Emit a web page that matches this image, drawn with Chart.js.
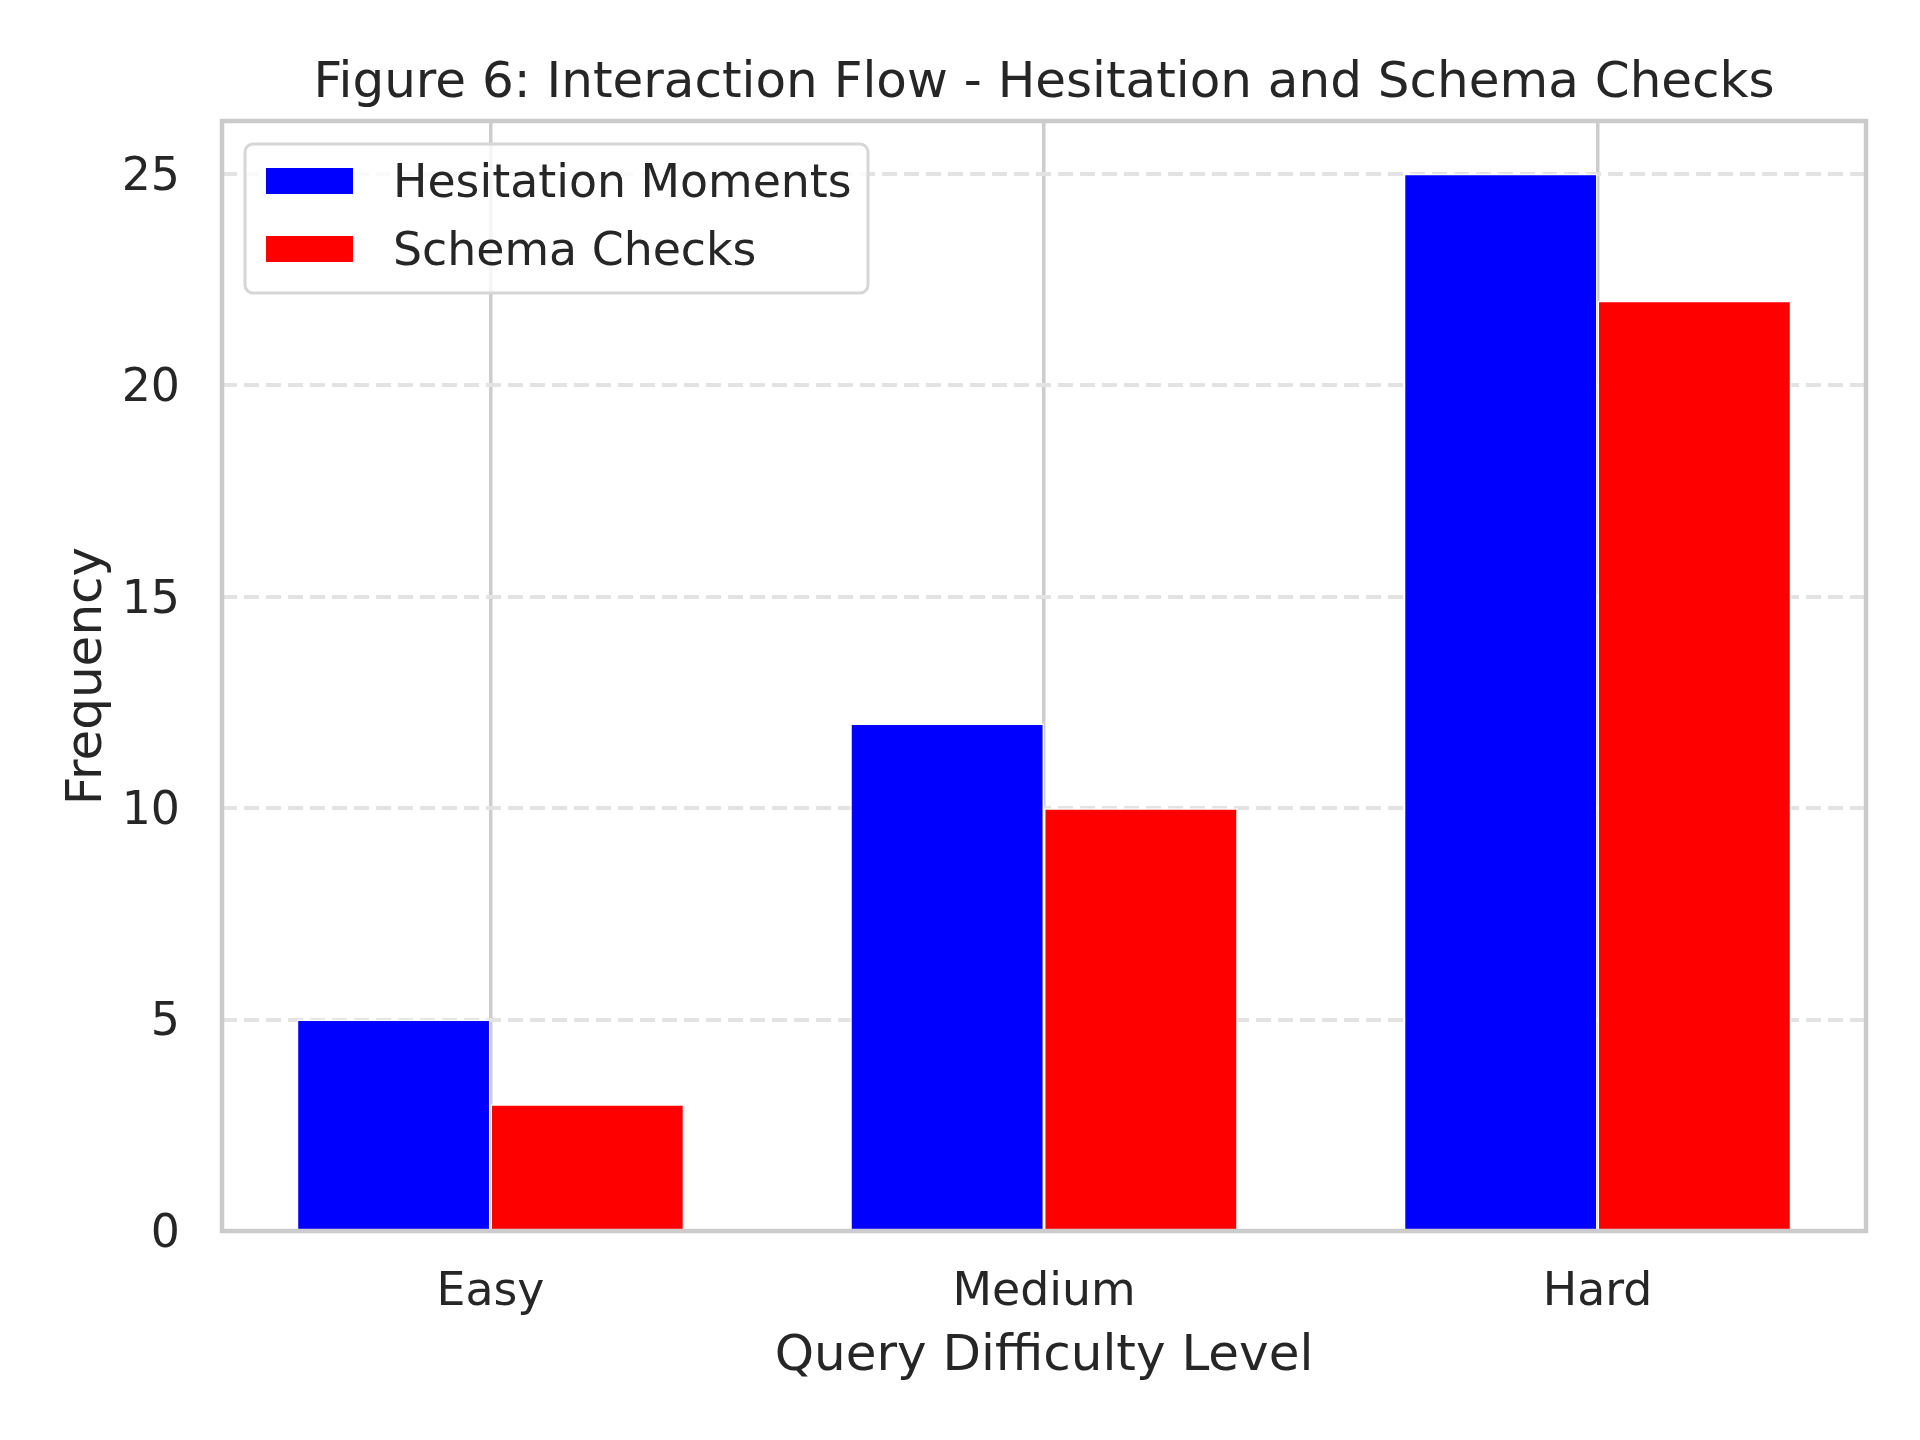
<!DOCTYPE html>
<html>
<head>
<meta charset="utf-8">
<script src="https://cdn.jsdelivr.net/npm/chart.js@4.4.1/dist/chart.umd.min.js"></script>
<style>
  html, body { margin: 0; padding: 0; background: #fff; }
  canvas { display: block; }
</style>
</head>
<body>
<canvas id="barChart" width="1920" height="1440"></canvas>
<script>
const categories = ['Easy', 'Medium', 'Hard'];
const hesitationMoments = [5, 12, 25];
const schemaChecks = [3, 10, 22];
const yTicks = [0, 5, 10, 15, 20, 25];

const textColor = '#262626';
const fontFamily = "'DejaVu Sans', sans-serif";

// frame round the plot area, drawn on top like the spines
const frame = {
  id: 'frame',
  afterDatasetsDraw(chart) {
    const { ctx, chartArea: a } = chart;
    ctx.save();
    ctx.strokeStyle = '#cccccc';
    ctx.lineWidth = 4.5;
    ctx.strokeRect(a.left, a.top, a.right - a.left, a.bottom - a.top);
    ctx.restore();
  }
};

// legend box inside the upper left corner
const innerLegend = {
  id: 'innerLegend',
  afterDatasetsDraw(chart) {
    const ctx = chart.ctx;
    const a = chart.chartArea;
    const x = a.left + 23, y = a.top + 23, w = 623, h = 149;
    ctx.save();
    ctx.beginPath();
    ctx.roundRect(x, y, w, h, 8);
    ctx.fillStyle = 'rgba(255,255,255,0.8)';
    ctx.fill();
    ctx.strokeStyle = '#d6d6d6';
    ctx.lineWidth = 3;
    ctx.stroke();
    ctx.font = '45.8px ' + fontFamily;
    ctx.textBaseline = 'middle';
    chart.data.datasets.forEach((ds, i) => {
      const cy = y + 37 + i * 68;
      ctx.fillStyle = ds.backgroundColor;
      ctx.fillRect(x + 21, cy - 13, 87, 26);
      ctx.fillStyle = textColor;
      ctx.fillText(ds.label, x + 148, cy + 4);
    });
    ctx.restore();
  }
};

const ctxBar = document.getElementById('barChart').getContext('2d');
new Chart(ctxBar, {
  type: 'bar',
  data: {
    datasets: [{
      label: 'Hesitation Moments',
      data: categories.map((c, i) => ({ x: i, y: hesitationMoments[i] })),
      backgroundColor: '#0000ff',
      borderColor: '#ffffff',
      borderWidth: 1.5
    }, {
      label: 'Schema Checks',
      data: categories.map((c, i) => ({ x: i, y: schemaChecks[i] })),
      backgroundColor: '#ff0000',
      borderColor: '#ffffff',
      borderWidth: 1.5
    }]
  },
  options: {
    responsive: false,
    animation: false,
    categoryPercentage: 0.7,
    barPercentage: 1.0,
    layout: { padding: { left: 0, right: 54, top: 0, bottom: 0 } },
    plugins: {
      legend: { display: false },
      tooltip: { enabled: false },
      title: {
        display: true,
        fullSize: false,
        text: 'Figure 6: Interaction Flow - Hesitation and Schema Checks',
        color: textColor,
        font: { family: fontFamily, size: 50, weight: 'normal' },
        padding: { top: 54, bottom: 7 }
      }
    },
    scales: {
      x: {
        type: 'linear',
        min: -0.485,
        max: 2.485,
        offset: false,
        afterBuildTicks: s => { s.ticks = categories.map((c, i) => ({ value: i })); },
        afterFit: s => { s.height = 1440 - 1231; },
        grid: { offset: false, color: '#cccccc', lineWidth: 3.5, drawTicks: false },
        border: { display: false },
        ticks: {
          callback: (v, i) => categories[i],
          color: textColor,
          font: { family: fontFamily, size: 45.8 },
          padding: 35,
          autoSkip: false,
          maxRotation: 0
        },
        title: {
          display: true,
          text: 'Query Difficulty Level',
          color: textColor,
          font: { family: fontFamily, size: 50 },
          padding: { top: 0, bottom: 53 }
        }
      },
      y: {
        min: 0,
        max: 26.25,
        afterBuildTicks: s => { s.ticks = yTicks.map(v => ({ value: v })); },
        afterFit: s => { s.width = 222; },
        grid: { color: '#e3e3e3', lineWidth: 4, drawTicks: false },
        border: { display: false, dash: [15, 7] },
        ticks: {
          color: textColor,
          font: { family: fontFamily, size: 45.8 },
          padding: 42,
          labelOffset: 4
        },
        title: {
          display: true,
          text: 'Frequency',
          color: textColor,
          font: { family: fontFamily, size: 50 },
          padding: { top: 58, bottom: 0 }
        }
      }
    }
  },
  plugins: [frame, innerLegend]
});
</script>
</body>
</html>
